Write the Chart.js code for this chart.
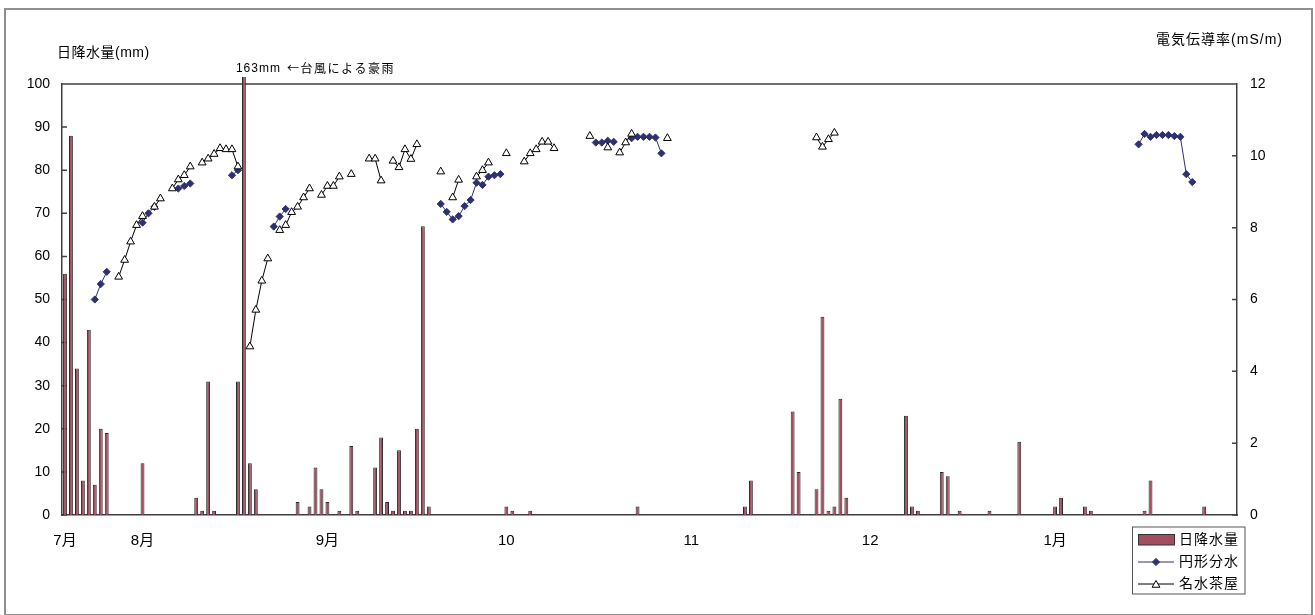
<!DOCTYPE html>
<html>
<head>
<meta charset="utf-8">
<script src="https://cdn.jsdelivr.net/npm/chart.js@4.4.1/dist/chart.umd.min.js"></script>
<style>
  body { margin: 0; background: #fff; }
</style>
</head>
<body>
<canvas id="chart" width="1315" height="615"></canvas>
<script>
// one category per day, 19 Jul .. 31 Jan
const dayCount = 197;
const monthTicks = [0, 13, 44, 74, 105, 135, 166];
const monthLabels = ["7月", "8月", "9月", "10", "11", "12", "1月"];

// daily rainfall (mm)
const rainDay = [0, 1, 2, 3, 4, 5, 6, 7, 13, 22, 23, 24, 25, 29, 30, 31, 32, 39, 41, 42, 43, 44, 46, 48, 49,
  52, 53, 54, 55, 56, 57, 58, 59, 60, 61, 74, 75, 78, 96, 114, 115, 122, 123, 126, 127, 128, 129, 130, 131,
  141, 142, 143, 147, 148, 150, 155, 160, 166, 167, 171, 172, 181, 182, 191];
const rainMm = [56, 88, 34, 8, 43, 7, 20, 19, 12, 4, 1, 31, 1, 31, 163, 12, 6, 3, 2, 11, 6, 3, 1, 16, 1,
  11, 18, 3, 1, 15, 1, 1, 20, 67, 2, 2, 1, 1, 2, 2, 8, 24, 10, 6, 46, 1, 2, 27, 4,
  23, 2, 1, 10, 9, 1, 1, 17, 2, 4, 2, 1, 1, 8, 2];

// conductivity (mS/m), 円形分水
const enkeiDay = [5, 6, 7, 13, 14, 15, 19, 20, 21, 28, 29, 35, 36, 37, 63, 64, 65, 66, 67, 68, 69, 70, 71, 72, 73,
  89, 90, 91, 92, 95, 96, 97, 98, 99, 100, 180, 181, 182, 183, 184, 185, 186, 187, 188, 189];
const enkeiEc = [6.0, 6.43, 6.77, 8.14, 8.40, 8.58, 9.09, 9.16, 9.23, 9.46, 9.6, 8.03, 8.31, 8.52,
  8.66, 8.44, 8.23, 8.32, 8.60, 8.77, 9.25, 9.19, 9.42, 9.46, 9.49,
  10.37, 10.37, 10.42, 10.39, 10.49, 10.53, 10.53, 10.53, 10.51, 10.07,
  10.32, 10.61, 10.53, 10.58, 10.58, 10.58, 10.55, 10.53, 9.49, 9.27];

// conductivity (mS/m), 名水茶屋
const meisuiDay = [9, 10, 11, 12, 13, 15, 16, 18, 19, 20, 21, 23, 24, 25, 26, 27, 28, 29, 31, 32, 33, 34,
  36, 37, 38, 39, 40, 41, 43, 44, 45, 46, 48, 51, 52, 53, 55, 56, 57, 58, 59, 63, 65, 66, 69, 70, 71, 74,
  77, 78, 79, 80, 81, 82, 88, 91, 93, 94, 95, 101, 126, 127, 128, 129];
const meisuiEc = [6.63, 7.10, 7.61, 8.07, 8.32, 8.58, 8.81, 9.09, 9.34, 9.46, 9.70, 9.81, 9.92, 10.05,
  10.21, 10.18, 10.18, 9.70, 4.69, 5.71, 6.52, 7.14, 7.93, 8.07, 8.43, 8.58, 8.84, 9.09, 8.91, 9.16,
  9.16, 9.42, 9.49, 9.92, 9.92, 9.31, 9.86, 9.68, 10.18, 9.91, 10.32, 9.56, 8.84, 9.33, 9.42, 9.60,
  9.81, 10.07, 9.84, 10.07, 10.18, 10.39, 10.39, 10.21, 10.55, 10.23, 10.09, 10.37, 10.61, 10.49,
  10.51, 10.25, 10.46, 10.64];

const FONT = "'Liberation Sans', 'Noto Sans CJK JP', sans-serif";
const CJK = "'Noto Sans CJK JP', sans-serif";
const BAR_FILL = "#A24E5E";
const NAVY = "#2E3170";

function dense(days, vals, empty) {
  const out = new Array(dayCount).fill(empty);
  days.forEach((d, i) => { out[d] = vals[i]; });
  return out;
}

const categories = Array.from({ length: dayCount }, (_, i) => {
  const k = monthTicks.indexOf(i);
  return k >= 0 ? monthLabels[k] : "";
});

// frame, plot top edge, inward ticks, titles and legend
const decor = {
  id: "decor",
  beforeDraw(chart) {
    const ctx = chart.ctx;
    ctx.save();
    ctx.fillStyle = "#fff";
    ctx.fillRect(0, 0, chart.width, chart.height);
    ctx.strokeStyle = "#8f8f8f";
    ctx.lineWidth = 2;
    ctx.strokeRect(5, 9, 1307, 606);
    ctx.restore();
  },
  beforeDatasetsDraw(chart) {
    const ctx = chart.ctx;
    const a = chart.chartArea;
    ctx.save();
    ctx.strokeStyle = "#404040";
    ctx.lineWidth = 1.5;
    ctx.beginPath();
    ctx.moveTo(a.left, a.top);
    ctx.lineTo(a.right, a.top);
    const y = chart.scales.y, y1 = chart.scales.y1;
    y.ticks.forEach((t) => {
      const p = y.getPixelForValue(t.value);
      ctx.moveTo(a.left, p);
      ctx.lineTo(a.left + 5, p);
    });
    y1.ticks.forEach((t) => {
      const p = y1.getPixelForValue(t.value);
      ctx.moveTo(a.right, p);
      ctx.lineTo(a.right - 5, p);
    });
    ctx.stroke();
    ctx.restore();
  },
  afterDraw(chart) {
    const ctx = chart.ctx;
    const x = chart.scales.x;
    ctx.save();
    ctx.fillStyle = "#000";
    ctx.textBaseline = "middle";

    ctx.font = "14px " + FONT;
    ctx.textAlign = "left";
    ctx.letterSpacing = "0.5px";
    ctx.fillText("日降水量(mm)", 57, 53);
    ctx.textAlign = "right";
    ctx.letterSpacing = "1px";
    ctx.fillText("電気伝導率(mS/m)", 1283, 40);

    // note over the typhoon bar
    const bx = x.getPixelForValue(30);
    ctx.textAlign = "left";
    ctx.font = "12px " + FONT;
    ctx.letterSpacing = "1px";
    ctx.fillText("163mm", bx - 8, 68.5);
    ctx.font = "12px " + CJK;
    ctx.letterSpacing = "1.5px";
    ctx.fillText("←台風による豪雨", bx + 43, 68.5);

    // legend box
    const lx = 1132.5, ly = 527;
    ctx.strokeStyle = "#555";
    ctx.lineWidth = 1;
    ctx.fillStyle = "#fff";
    ctx.fillRect(lx, ly, 112.5, 67);
    ctx.strokeRect(lx, ly, 112.5, 67);

    ctx.fillStyle = BAR_FILL;
    ctx.fillRect(1138.5, 534.5, 36, 10.5);
    ctx.strokeStyle = "#333";
    ctx.strokeRect(1138.5, 534.5, 36, 10.5);

    ctx.strokeStyle = NAVY;
    ctx.beginPath();
    ctx.moveTo(1138, 562);
    ctx.lineTo(1174, 562);
    ctx.stroke();
    ctx.fillStyle = NAVY;
    Chart.helpers.drawPoint(ctx, { pointStyle: "rectRot", radius: 3.6, rotation: 0, borderWidth: 1 }, 1156, 562);

    ctx.strokeStyle = "#000";
    ctx.beginPath();
    ctx.moveTo(1138, 584);
    ctx.lineTo(1174, 584);
    ctx.stroke();
    ctx.fillStyle = "#fff";
    Chart.helpers.drawPoint(ctx, { pointStyle: "triangle", radius: 4.5, rotation: 0, borderWidth: 1 }, 1156, 585);

    ctx.fillStyle = "#000";
    ctx.font = "14px " + FONT;
    ctx.letterSpacing = "1px";
    ctx.textAlign = "left";
    ctx.fillText("日降水量", 1179, 540);
    ctx.fillText("円形分水", 1179, 562);
    ctx.fillText("名水茶屋", 1179, 584);
    ctx.restore();
  }
};

new Chart(document.getElementById("chart"), {
  type: "bar",
  data: {
    labels: categories,
    datasets: [
      {
        type: "line",
        label: "名水茶屋",
        data: dense(meisuiDay, meisuiEc, null),
        yAxisID: "y1",
        order: 1,
        borderColor: "#000",
        borderWidth: 1,
        pointStyle: "triangle",
        pointRadius: 4.5,
        pointBorderWidth: 1,
        pointBorderColor: "#000",
        pointBackgroundColor: "#fff",
        spanGaps: false
      },
      {
        type: "line",
        label: "円形分水",
        data: dense(enkeiDay, enkeiEc, null),
        yAxisID: "y1",
        order: 2,
        borderColor: NAVY,
        borderWidth: 1,
        pointStyle: "rectRot",
        pointRadius: 3.6,
        pointBorderWidth: 1,
        pointBorderColor: NAVY,
        pointBackgroundColor: NAVY,
        spanGaps: false
      },
      {
        label: "日降水量",
        data: dense(rainDay, rainMm, 0),
        yAxisID: "y",
        order: 3,
        backgroundColor: BAR_FILL,
        borderColor: "#2a2a2a",
        borderWidth: 1,
        barPercentage: 0.65,
        categoryPercentage: 1,
        clip: { left: 0, top: 7, right: 0, bottom: 0 }
      }
    ]
  },
  options: {
    responsive: false,
    animation: false,
    layout: { padding: { top: 84, left: 0, right: 0, bottom: 0 } },
    plugins: {
      legend: { display: false },
      title: { display: false },
      tooltip: { enabled: false }
    },
    scales: {
      x: {
        type: "category",
        offset: true,
        grid: { display: false, drawTicks: false },
        border: { color: "#404040", width: 1.5 },
        ticks: {
          autoSkip: false,
          maxRotation: 0,
          minRotation: 0,
          padding: 17,
          color: "#000",
          font: { size: 15, family: FONT }
        },
        afterFit(s) { s.height = 100; }
      },
      y: {
        position: "left",
        min: 0,
        max: 100,
        grid: { display: false, drawTicks: false },
        border: { color: "#404040", width: 1.5 },
        ticks: { stepSize: 10, padding: 12, color: "#000", font: { size: 14, family: FONT } },
        afterFit(s) { s.width = 62; }
      },
      y1: {
        position: "right",
        min: 0,
        max: 12,
        grid: { display: false, drawTicks: false },
        border: { color: "#404040", width: 1.5 },
        ticks: { stepSize: 2, padding: 13, color: "#000", font: { size: 14, family: FONT } },
        afterFit(s) { s.width = 78; }
      }
    }
  },
  plugins: [decor]
});
</script>
</body>
</html>
